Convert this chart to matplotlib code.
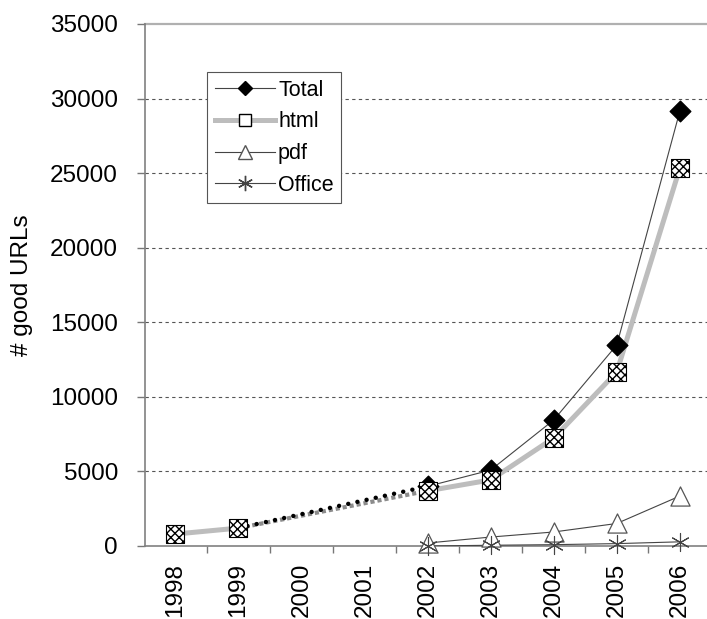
import matplotlib
matplotlib.use("Agg")
import matplotlib.pyplot as plt
from matplotlib.lines import Line2D
import numpy as np

plt.rcParams['font.family'] = ['Liberation Sans', 'DejaVu Sans']

years = [1998, 1999, 2000, 2001, 2002, 2003, 2004, 2005, 2006]
total_years = [1998, 1999, 2002, 2003, 2004, 2005, 2006]
total = [800, 1200, 4000, 5090, 8450, 13480, 29170]
html_years = [1998, 1999, 2002, 2003, 2004, 2005, 2006]
html = [800, 1200, 3700, 4430, 7240, 11670, 25350]
pdf_years = [2002, 2003, 2004, 2005, 2006]
pdf = [200, 600, 940, 1510, 3350]
office_years = [2002, 2003, 2004, 2005, 2006]
office = [0, 50, 90, 160, 280]
yticks = [0, 5000, 10000, 15000, 20000, 25000, 30000, 35000]

FS = 17.5
LFS = 15.5

fig = plt.figure(figsize=(7.07, 6.19), dpi=100)
ax = fig.add_axes([145/707, 1 - 546/619, (707 - 145)/707, (546 - 24)/619])

gray = '#bdbdbd'

# html line: solid for 1998-1999 and 2002-2006, dotted for gap
ax.plot(html_years[:2], html[:2], color=gray, lw=3.6, solid_capstyle='butt', zorder=2)
ax.plot(html_years[1:3], html[1:3], color='#8c8c8c', lw=3.0, ls=(0, (1, 0.7)), zorder=2)
ax.plot(html_years[2:], html[2:], color=gray, lw=3.6, solid_capstyle='butt', zorder=2)

# total line
ax.plot(total_years[2:], total[2:], color='#444444', lw=0.8, zorder=3)
ax.plot(total_years[1:3], total[1:3], color='black', lw=3.2, ls=(0, (0.01, 2.1)),
        dash_capstyle='round', zorder=3)

# pdf, office
ax.plot(pdf_years, pdf, color='#444444', lw=0.8, zorder=3)
ax.plot(office_years, office, color='#444444', lw=0.8, zorder=3)

# markers
ax.scatter(total_years[2:], total[2:], marker='D', s=110, color='black', zorder=5)
ax.scatter(html_years, html, marker='s', s=170, facecolor='white', edgecolor='black',
           hatch='xxxx', linewidth=0.8, zorder=6)
ax.scatter(pdf_years, pdf, marker='^', s=190, facecolor='white', edgecolor='#555555',
           linewidth=0.9, zorder=6, clip_on=False)
ax.scatter(office_years, office, marker=(6, 2, 0), s=170, color='#444444',
           linewidth=0.8, zorder=6, clip_on=False)

ax.set_xlim(1997.52, 2006.43)
ax.set_ylim(0, 35000)
ax.set_yticks(yticks)
ax.set_yticklabels([str(v) for v in yticks], fontsize=FS)
ax.set_xticks(years)
ax.set_xticklabels([str(y) for y in years], rotation=90, fontsize=FS)
ax.set_xticks(np.arange(1998.5, 2006.5, 1), minor=True)
ax.tick_params(axis='x', which='major', length=0, pad=12)
ax.tick_params(axis='x', which='minor', length=5, direction='out', color='#777777', width=1)
ax.tick_params(axis='y', length=5.5, direction='out', color='#777777', pad=14, width=1)
for y in yticks[1:-1]:
    ax.axhline(y, color='#555555', lw=0.8, ls=(0, (3, 3)), zorder=1)
ax.axhline(35000, color='#b0b0b0', lw=1.6, zorder=1, clip_on=False)
for s in ['top', 'right']:
    ax.spines[s].set_visible(False)
for s in ['left', 'bottom']:
    ax.spines[s].set_color('#808080')
    ax.spines[s].set_linewidth(1.2)
ax.set_ylabel('# good URLs', fontsize=FS, labelpad=12)

handles = [
    Line2D([], [], color='#444444', lw=0.8, marker='D', markersize=7.5, markerfacecolor='black', markeredgecolor='black'),
    Line2D([], [], color=gray, lw=3.6, marker='s', markersize=8, markerfacecolor='white', markeredgecolor='black'),
    Line2D([], [], color='#444444', lw=0.8, marker='^', markersize=10, markerfacecolor='white', markeredgecolor='#555555'),
    Line2D([], [], color='#444444', lw=0.8, marker=(6, 2, 0), markersize=11, markeredgecolor='#444444'),
]
leg = ax.legend(handles, ['Total', 'html', 'pdf', 'Office'], loc='upper left',
                bbox_to_anchor=((207 - 145)/562, 1 - (72 - 24)/522), fontsize=LFS,
                frameon=True, fancybox=False, edgecolor='#555555', framealpha=1,
                handlelength=2.8, handletextpad=0.15, labelspacing=0.5,
                borderpad=0.35, borderaxespad=0)
leg.get_frame().set_linewidth(0.8)

fig.savefig('out.png', dpi=100)
